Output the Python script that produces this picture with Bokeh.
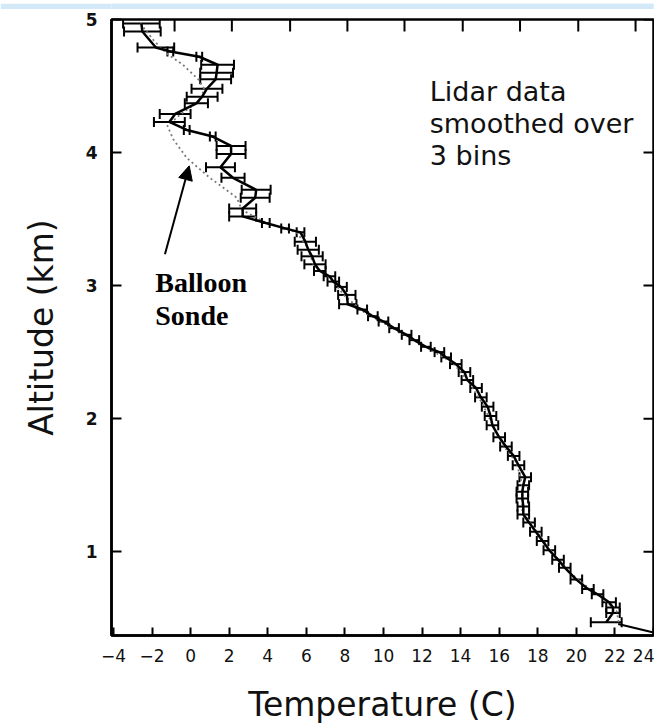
import math
from bokeh.plotting import figure
from bokeh.models import (Range1d, LinearAxis, FixedTicker, Whisker, ColumnDataSource,
                          TeeHead, Arrow, NormalHead)
from bokeh.layouts import column
from bokeh.embed import file_html
from bokeh.resources import INLINE
from bokeh.core.properties import value

# ---------------- data ----------------
lidar_temp = [-2.55, -2.5, -1.8, -1.05, 0.45, 1.4, 1.35, 1.3, 0.85, 0.6, 0.3, -0.8, -1.1,
              -0.2, 1.15, 2.1, 2.1, 1.55, 2.2, 3.4, 3.35, 2.7, 2.7, 3.9, 4.9, 5.7, 5.95,
              6.1, 6.3, 6.45, 6.7, 7.2, 7.4, 7.8, 8.1, 8.15, 8.9, 9.45, 10.0, 10.55, 11.2,
              11.6, 12.2, 12.9, 13.25, 13.75, 14.2, 14.35, 14.8, 15.05, 15.4, 15.55, 15.65,
              16.0, 16.35, 16.75, 17.0, 17.35, 17.25, 17.2, 17.2, 17.25, 17.25, 17.55, 17.9,
              18.25, 18.6, 19.05, 19.4, 20.0, 20.6, 21.1, 21.7, 21.9, 21.9, 21.55]
lidar_alt = [4.97, 4.91, 4.79, 4.76, 4.72, 4.66, 4.60, 4.55, 4.48, 4.42, 4.37, 4.29, 4.23,
             4.17, 4.12, 4.05, 3.99, 3.89, 3.81, 3.72, 3.66, 3.58, 3.52, 3.47, 3.43, 3.40, 3.33,
             3.27, 3.22, 3.16, 3.11, 3.07, 3.03, 2.99, 2.93, 2.86, 2.82, 2.77, 2.73, 2.68, 2.63,
             2.59, 2.54, 2.50, 2.46, 2.41, 2.35, 2.29, 2.23, 2.16, 2.09, 2.02, 1.95,
             1.86, 1.79, 1.72, 1.65, 1.56, 1.50, 1.45, 1.40, 1.34, 1.28, 1.22, 1.15,
             1.08, 1.01, 0.94, 0.88, 0.79, 0.72, 0.68, 0.62, 0.58, 0.54, 0.47]
lidar_err = [0.95, 0.95, 0.95, 0.15, 0.15, 0.85, 0.85, 0.8, 0.8, 0.8, 0.6, 0.8, 0.8,
             0.15, 0.15, 0.75, 0.75, 0.75, 0.6, 0.75, 0.75, 0.7, 0.7, 0.2, 0.2, 0.2, 0.55,
             0.55, 0.55, 0.55, 0.3, 0.3, 0.3, 0.3, 0.45, 0.45, 0.25, 0.25, 0.25, 0.25, 0.25,
             0.25, 0.25, 0.25, 0.25, 0.3, 0.3, 0.3, 0.3, 0.3, 0.3, 0.3, 0.3,
             0.3, 0.3, 0.3, 0.3, 0.3, 0.3, 0.3, 0.3, 0.3, 0.3, 0.3, 0.3,
             0.3, 0.3, 0.3, 0.3, 0.3, 0.3, 0.3, 0.35, 0.35, 0.35, 0.8]

sonde_temp = [-2.6, -1.9, -1.2, -0.4, 0.4, 0.7, 0.5, -0.5, -1.2, -0.9, -0.2, 1.0, 2.4, 2.65,
              3.8, 5.5, 6.0, 6.4, 7.3, 8.0, 9.0, 10.6, 12.3, 13.6, 14.4, 15.1, 15.6, 16.2,
              16.9, 17.2, 17.2, 17.7, 18.6, 19.6, 20.7, 21.6, 22.1, 22.2]
sonde_alt = [4.97, 4.84, 4.74, 4.66, 4.55, 4.48, 4.39, 4.29, 4.20, 4.10, 3.96, 3.81, 3.66, 3.57,
             3.48, 3.40, 3.30, 3.15, 3.05, 2.92, 2.80, 2.67, 2.53, 2.42, 2.28, 2.12, 1.97, 1.80,
             1.67, 1.50, 1.30, 1.20, 1.02, 0.85, 0.72, 0.62, 0.55, 0.46]

surface_temp = [22.17, 24.0]
surface_alt = [0.456, 0.393]

x_ticks = [-4, -2, 0, 2, 4, 6, 8, 10, 12, 14, 16, 18, 20, 22, 24]
x_tick_labels = ["\u22124", "\u22122", "0", "2", "4", "6", "8", "10", "12", "14", "16",
                 "18", "20", "22", "24"]
y_ticks = [1, 2, 3, 4, 5]
y_tick_labels = ["1", "2", "3", "4", "5"]
top_ticks = [-0.83, 2.14, 5.16, 8.13, 11.09, 14.11, 17.08, 20.1, 23.07]

note_lines = ["Lidar data", "smoothed over", "3 bins"]
note_x = [12.4, 12.4, 12.4]
note_y = [4.456, 4.218, 3.98]
sonde_lines = ["Balloon", "Sonde"]
sonde_lx = [-1.83, -1.83]
sonde_ly = [3.025, 2.776]

FONT = "DejaVu Sans"
X0, X1 = -4.1, 24.0
Y0, Y1 = 0.37, 5.0

# ---------------- top light-blue band ----------------
band = figure(width=654, height=9, toolbar_location=None, output_backend="svg",
              min_border=0, x_axis_location=None, y_axis_location=None,
              x_range=Range1d(0, 1), y_range=Range1d(0, 1))
band.background_fill_color = "#d3e9f8"
band.border_fill_color = "#d3e9f8"
band.outline_line_color = None
band.grid.visible = False
band.scatter([0.5], [0.5], size=0, alpha=0)

# ---------------- main figure ----------------
p = figure(width=654, height=719, x_range=Range1d(X0, X1), y_range=Range1d(Y0, Y1),
           toolbar_location=None, output_backend="svg",
           x_axis_location=None, y_axis_location=None,
           min_border_left=111, min_border_right=1, min_border_top=10, min_border_bottom=93)
p.grid.visible = False
p.outline_line_color = "black"
p.outline_line_width = 2.5
p.background_fill_color = "white"
p.border_fill_color = "white"

xb = LinearAxis(ticker=FixedTicker(ticks=x_ticks), axis_label="Temperature (C)")
xb.major_label_overrides = {t: l for t, l in zip(x_ticks, x_tick_labels)}
yl = LinearAxis(ticker=FixedTicker(ticks=y_ticks), axis_label="Altitude (km)")
yl.major_label_overrides = {t: l for t, l in zip(y_ticks, y_tick_labels)}

for ax in (xb, yl):
    ax.axis_line_color = "black"
    ax.axis_line_width = 2.5
    ax.major_tick_line_color = "black"
    ax.major_tick_line_width = 2
    ax.major_tick_out = 0
    ax.minor_tick_line_color = None
    ax.major_label_text_font = FONT
    ax.axis_label_text_font = FONT
    ax.axis_label_text_font_style = "normal"
    ax.axis_label_text_color = "#111111"
    ax.major_label_text_color = "#111111"
    ax.axis_label_text_font_size = "33px"

xb.major_tick_in = 8
xb.major_label_text_font_size = "17px"
xb.major_label_standoff = 13
xb.axis_label_standoff = 20

yl.major_tick_in = 10
yl.major_label_text_font_size = "17px"
yl.major_label_text_font_style = "bold"
yl.major_label_standoff = 14
yl.axis_label_standoff = 22

p.add_layout(xb, "below")
p.add_layout(yl, "left")

# inward ticks on the top and right frame edges
p.ray(x=top_ticks, y=[Y1] * len(top_ticks), length=12, length_units="screen",
      angle=-math.pi / 2, line_color="black", line_width=2)
p.ray(x=[X1] * len(y_ticks), y=y_ticks, length=10, length_units="screen",
      angle=math.pi, line_color="black", line_width=2)

# balloon sonde
p.line(sonde_temp, sonde_alt, line_color="#7a7a7a", line_width=1.8, line_dash="2 3")
p.line(surface_temp, surface_alt, line_color="black", line_width=2)

# lidar profile with error bars
src = ColumnDataSource(dict(
    t=lidar_temp, z=lidar_alt,
    lo=[t - e for t, e in zip(lidar_temp, lidar_err)],
    hi=[t + e for t, e in zip(lidar_temp, lidar_err)],
))
p.line("t", "z", source=src, line_color="black", line_width=2.5)
w = Whisker(source=src, base="z", lower="lo", upper="hi", dimension="width",
            line_color="black", line_width=2,
            upper_head=TeeHead(size=10, line_color="black", line_width=2),
            lower_head=TeeHead(size=10, line_color="black", line_width=2))
p.add_layout(w)

# annotations
p.text(note_x, note_y, text=note_lines, text_font=value(FONT), text_font_size="27px",
       text_color="#111111", text_baseline="alphabetic", text_align="left")
p.text(sonde_lx, sonde_ly, text=sonde_lines, text_font=value("Liberation Serif"),
       text_font_size="28px", text_font_style="bold", text_color="black",
       text_baseline="alphabetic", text_align="left")
p.add_layout(Arrow(end=NormalHead(size=14, fill_color="black", line_color="black"),
                   x_start=-1.33, y_start=3.236, x_end=-0.07, y_end=3.90,
                   line_color="black", line_width=2))

layout = column(band, p, spacing=0)
open("out.html", "w").write(file_html(layout, INLINE))
